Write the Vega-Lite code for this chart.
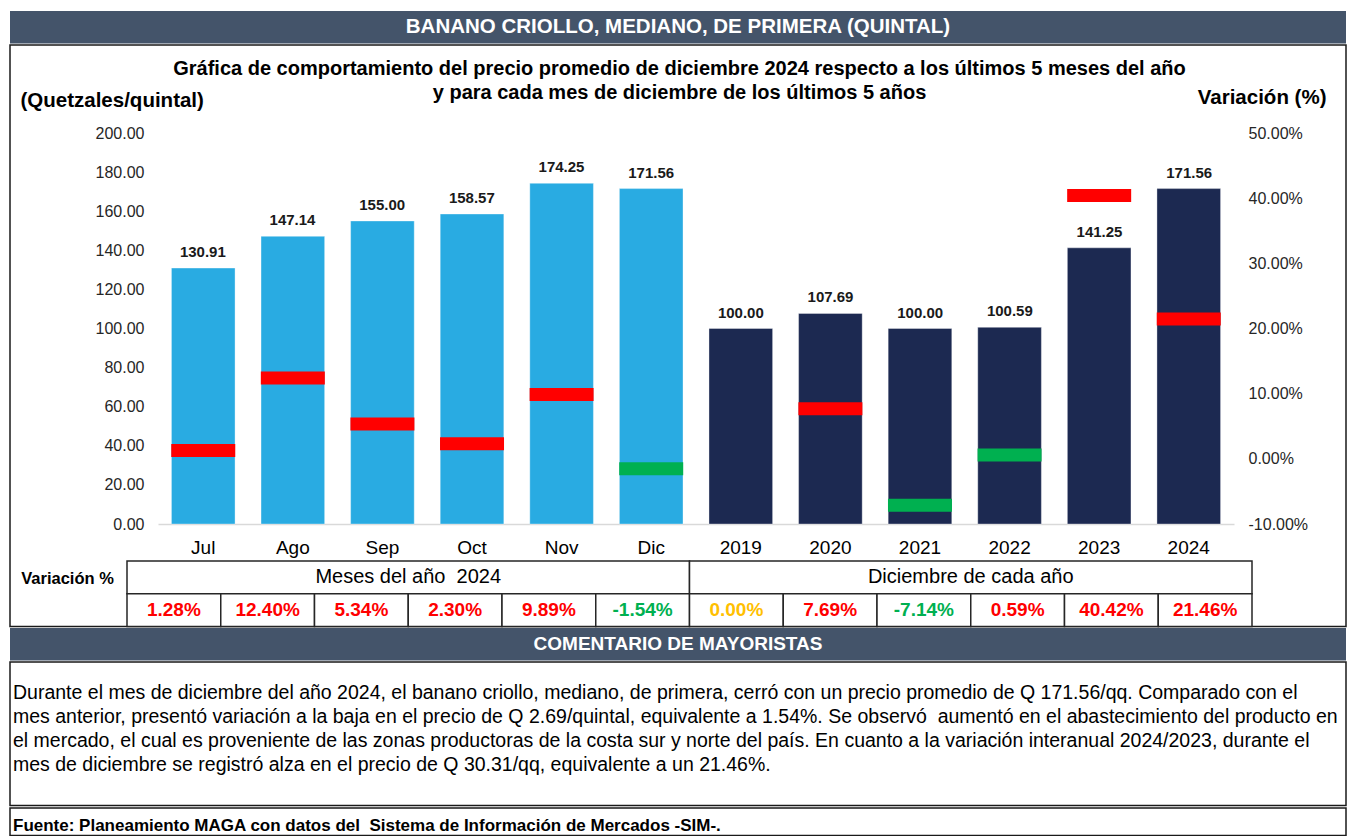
{
  "$schema": "https://vega.github.io/schema/vega-lite/v6.json",
  "padding": {"left": 9, "top": 11, "right": 0, "bottom": 0},
  "background": "white",
  "spacing": 0,
  "config": {
    "font": "Liberation Sans",
    "view": {"stroke": "#1a1a1a", "strokeWidth": 1.5},
    "concat": {"spacing": 0},
    "text": {"font": "Liberation Sans"},
    "locale": {"number": {"decimal": ".", "thousands": ",", "grouping": [3], "currency": ["$", ""], "minus": "-"}}
  },
  "datasets": {
    "precios": [
      {"cat": "Jul", "grupo": "Meses del año\u00a0 2024", "tipo": "mes", "precio": 130.91, "variacion": 0.0128},
      {"cat": "Ago", "grupo": "Meses del año\u00a0 2024", "tipo": "mes", "precio": 147.14, "variacion": 0.1240},
      {"cat": "Sep", "grupo": "Meses del año\u00a0 2024", "tipo": "mes", "precio": 155.00, "variacion": 0.0534},
      {"cat": "Oct", "grupo": "Meses del año\u00a0 2024", "tipo": "mes", "precio": 158.57, "variacion": 0.0230},
      {"cat": "Nov", "grupo": "Meses del año\u00a0 2024", "tipo": "mes", "precio": 174.25, "variacion": 0.0989},
      {"cat": "Dic", "grupo": "Meses del año\u00a0 2024", "tipo": "mes", "precio": 171.56, "variacion": -0.0154},
      {"cat": "2019", "grupo": "Diciembre de cada año", "tipo": "anio", "precio": 100.00, "variacion": 0.0},
      {"cat": "2020", "grupo": "Diciembre de cada año", "tipo": "anio", "precio": 107.69, "variacion": 0.0769},
      {"cat": "2021", "grupo": "Diciembre de cada año", "tipo": "anio", "precio": 100.00, "variacion": -0.0714},
      {"cat": "2022", "grupo": "Diciembre de cada año", "tipo": "anio", "precio": 100.59, "variacion": 0.0059},
      {"cat": "2023", "grupo": "Diciembre de cada año", "tipo": "anio", "precio": 141.25, "variacion": 0.4042},
      {"cat": "2024", "grupo": "Diciembre de cada año", "tipo": "anio", "precio": 171.56, "variacion": 0.2146}
    ]
  },
  "vconcat": [
    {
      "width": 1336,
      "height": 32.5,
      "view": {"fill": "#44546A"},
      "data": {"values": [{"t": "BANANO CRIOLLO, MEDIANO, DE PRIMERA (QUINTAL)"}]},
      "mark": {"type": "text", "fontSize": 20.5, "fontWeight": "bold", "color": "#FFFFFF", "baseline": "middle"},
      "encoding": {"text": {"field": "t", "type": "nominal"}}
    },
    {
      "width": 1336,
      "height": 581.5,
      "data": {"name": "precios"},
      "resolve": {
        "scale": {"x": "independent", "y": "independent", "color": "independent"},
        "axis": {"x": "independent", "y": "independent"}
      },
      "layer": [
        {
          "mark": {"type": "bar", "stroke": "#FFFFFF", "strokeOpacity": 0.35, "strokeWidth": 1},
          "encoding": {
            "x": {
              "field": "cat", "type": "nominal",
              "scale": {"domain": ["Jul","Ago","Sep","Oct","Nov","Dic","2019","2020","2021","2022","2023","2024"], "range": [148, 1224], "paddingInner": 0.29, "paddingOuter": 0.15},
              "axis": {
                "orient": "bottom", "offset": -102.5, "domainColor": "#D9D9D9", "domainWidth": 1.5,
                "ticks": false, "tickSize": 0, "labelFontSize": 19, "labelColor": "#000000", "labelPadding": 14, "labelAngle": 0,
                "title": ["Gráfica de comportamiento del precio promedio de diciembre 2024 respecto a los últimos 5 meses del año", "y para cada mes de diciembre de los últimos 5 años"],
                "titleFontSize": 20, "titleFontWeight": "bold", "titleColor": "#000000",
                "titleX": 669, "titleY": -450, "titleAlign": "center", "titleBaseline": "alphabetic", "titleLineHeight": 24
              }
            },
            "y": {
              "field": "precio", "type": "quantitative",
              "scale": {"domain": [0, 200], "range": [479, 88], "nice": false},
              "axis": {
                "orient": "left", "offset": -140, "values": [0,20,40,60,80,100,120,140,160,180,200], "format": ".2f",
                "domain": false, "ticks": false, "tickSize": 0, "grid": false,
                "labelFontSize": 16, "labelColor": "#262626", "labelPadding": 6,
                "title": "(Quetzales/quintal)", "titleAngle": 0, "titleFontSize": 20.5, "titleFontWeight": "bold", "titleColor": "#000000",
                "titleAlign": "left", "titleBaseline": "middle", "titleX": -130, "titleY": 55
              }
            },
            "color": {"field": "tipo", "type": "nominal", "scale": {"domain": ["mes", "anio"], "range": ["#29ABE2", "#1C2951"]}, "legend": null}
          }
        },
        {
          "mark": {"type": "text", "baseline": "bottom", "dy": -8, "fontSize": 15, "fontWeight": "bold", "color": "#1a1a1a"},
          "encoding": {
            "x": {"field": "cat", "type": "nominal", "scale": {"domain": ["Jul","Ago","Sep","Oct","Nov","Dic","2019","2020","2021","2022","2023","2024"], "range": [148, 1224], "paddingInner": 0.29, "paddingOuter": 0.15}, "axis": null},
            "y": {"field": "precio", "type": "quantitative", "scale": {"domain": [0, 200], "range": [479, 88], "nice": false}, "axis": null},
            "text": {"field": "precio", "type": "quantitative", "format": ".2f"}
          }
        },
        {
          "transform": [{"filter": "datum.variacion != 0"}],
          "mark": {"type": "tick", "thickness": 13, "size": 64, "opacity": 1},
          "encoding": {
            "x": {"field": "cat", "type": "nominal", "scale": {"domain": ["Jul","Ago","Sep","Oct","Nov","Dic","2019","2020","2021","2022","2023","2024"], "range": [148, 1224], "paddingInner": 0.29, "paddingOuter": 0.15}, "axis": null},
            "y": {
              "field": "variacion", "type": "quantitative",
              "scale": {"domain": [-0.1, 0.5], "range": [479, 88], "nice": false, "zero": false},
              "axis": {
                "orient": "right", "offset": -98, "values": [-0.1, 0, 0.1, 0.2, 0.3, 0.4, 0.5], "format": ".2%",
                "domain": false, "ticks": false, "tickSize": 0, "grid": false,
                "labelFontSize": 16, "labelColor": "#262626", "labelPadding": 0,
                "title": "Variación (%)", "titleAngle": 0, "titleFontSize": 20.5, "titleFontWeight": "bold", "titleColor": "#000000",
                "titleAlign": "right", "titleBaseline": "middle", "titleX": 78, "titleY": 52
              }
            },
            "color": {"field": "variacion", "type": "quantitative", "scale": {"type": "threshold", "domain": [0.01], "range": ["#00B050", "#FF0000"]}, "legend": null}
          }
        },
        {
          "transform": [{"aggregate": [{"op": "count", "as": "n"}], "groupby": ["grupo"]}],
          "mark": {"type": "rect", "fill": "#FFFFFF", "stroke": "#262626", "strokeWidth": 1.5},
          "encoding": {
            "x": {
              "field": "grupo", "type": "nominal",
              "scale": {"domain": ["Meses del año\u00a0 2024", "Diciembre de cada año"], "range": [117, 1242], "paddingInner": 0, "paddingOuter": 0},
              "axis": {
                "orient": "top", "domain": false, "ticks": false, "labels": false,
                "title": "Variación %", "titleFontSize": 16.5, "titleFontWeight": "bold", "titleColor": "#000000",
                "titleX": 57, "titleY": 533, "titleAlign": "center", "titleBaseline": "middle"
              }
            },
            "y": {"datum": "grupo", "type": "nominal", "scale": {"domain": ["grupo", "valor"], "range": [516, 581.5], "paddingInner": 0, "paddingOuter": 0}, "axis": null}
          }
        },
        {
          "transform": [{"aggregate": [{"op": "count", "as": "n"}], "groupby": ["grupo"]}],
          "mark": {"type": "text", "fontSize": 20, "color": "#000000", "baseline": "middle"},
          "encoding": {
            "x": {"field": "grupo", "type": "nominal", "scale": {"domain": ["Meses del año\u00a0 2024", "Diciembre de cada año"], "range": [117, 1242], "paddingInner": 0, "paddingOuter": 0}, "axis": null},
            "y": {"datum": "grupo", "type": "nominal", "scale": {"domain": ["grupo", "valor"], "range": [516, 581.5], "paddingInner": 0, "paddingOuter": 0}, "axis": null},
            "text": {"field": "grupo", "type": "nominal"}
          }
        },
        {
          "mark": {"type": "rect", "fill": "#FFFFFF", "stroke": "#262626", "strokeWidth": 1.5},
          "encoding": {
            "x": {"field": "cat", "type": "nominal", "scale": {"domain": ["Jul","Ago","Sep","Oct","Nov","Dic","2019","2020","2021","2022","2023","2024"], "range": [117, 1242], "paddingInner": 0, "paddingOuter": 0}, "axis": null},
            "y": {"datum": "valor", "type": "nominal", "scale": {"domain": ["grupo", "valor"], "range": [516, 581.5], "paddingInner": 0, "paddingOuter": 0}, "axis": null}
          }
        },
        {
          "mark": {"type": "text", "fontSize": 19, "fontWeight": "bold", "baseline": "middle"},
          "encoding": {
            "x": {"field": "cat", "type": "nominal", "scale": {"domain": ["Jul","Ago","Sep","Oct","Nov","Dic","2019","2020","2021","2022","2023","2024"], "range": [117, 1242], "paddingInner": 0, "paddingOuter": 0}, "axis": null},
            "y": {"datum": "valor", "type": "nominal", "scale": {"domain": ["grupo", "valor"], "range": [516, 581.5], "paddingInner": 0, "paddingOuter": 0}, "axis": null},
            "text": {"field": "variacion", "type": "quantitative", "format": ".2%"},
            "color": {"field": "variacion", "type": "quantitative", "scale": {"type": "threshold", "domain": [-0.00001, 0.00001], "range": ["#00B050", "#FFC000", "#FF0000"]}, "legend": null}
          }
        }
      ]
    },
    {
      "width": 1336,
      "height": 32.5,
      "view": {"fill": "#44546A"},
      "data": {"values": [{"t": "COMENTARIO DE MAYORISTAS"}]},
      "mark": {"type": "text", "fontSize": 19, "fontWeight": "bold", "color": "#FFFFFF", "baseline": "middle"},
      "encoding": {"text": {"field": "t", "type": "nominal"}}
    },
    {
      "width": 1336,
      "height": 143.5,
      "data": {"values": [{}]},
      "mark": {"type": "text", "fontSize": 19.5, "color": "#000000", "align": "left", "baseline": "middle", "lineHeight": 24, "dx": 3, "dy": -40.5},
      "encoding": {
        "x": {"datum": 0, "type": "quantitative", "scale": {"domain": [0, 1]}, "axis": null},
        "text": {"value": [
          "Durante el mes de diciembre del año 2024, el banano criollo, mediano, de primera, cerró con un precio promedio de Q 171.56/qq. Comparado con el",
          "mes anterior, presentó variación a la baja en el precio de Q 2.69/quintal, equivalente a 1.54%. Se observó\u00a0 aumentó en el abastecimiento del producto en",
          "el mercado, el cual es proveniente de las zonas productoras de la costa sur y norte del país. En cuanto a la variación interanual 2024/2023, durante el",
          "mes de diciembre se registró alza en el precio de Q 30.31/qq, equivalente a un 21.46%."
        ]}
      }
    },
    {
      "width": 1336,
      "height": 27.5,
      "data": {"values": [{}]},
      "mark": {"type": "text", "fontSize": 17, "fontWeight": "bold", "color": "#000000", "align": "left", "baseline": "middle", "dx": 3, "dy": 4},
      "encoding": {
        "x": {"datum": 0, "type": "quantitative", "scale": {"domain": [0, 1]}, "axis": null},
        "text": {"value": "Fuente: Planeamiento MAGA con datos del\u00a0 Sistema de Información de Mercados -SIM-."}
      }
    }
  ]
}
